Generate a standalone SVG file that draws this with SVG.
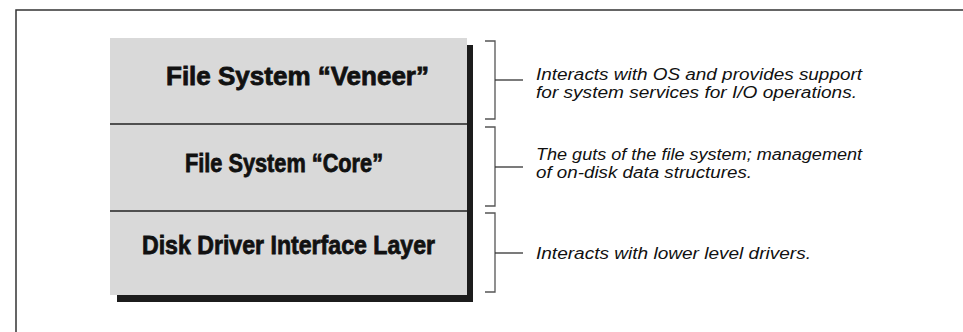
<svg xmlns="http://www.w3.org/2000/svg" width="963" height="332" viewBox="0 0 963 332">
<style>
.frame{stroke:#333;stroke-width:1.5;fill:none}
.sect{fill:#d9d9d9;stroke:none}
.div{stroke:#222;stroke-width:1.5}
.shadow{fill:#1c1c1c}
.lbl{font-family:"Liberation Sans",Arial,sans-serif;font-weight:bold;font-size:26px;fill:#111;stroke:#111;stroke-width:0.8}
.note{font-family:"Liberation Sans",Arial,sans-serif;font-style:italic;font-size:16px;fill:#111}
.br{stroke:#555;stroke-width:1.3;fill:none}
.tick{stroke:#333;stroke-width:1.3}
</style>
<rect width="963" height="332" fill="#fff"/>
<path class="frame" d="M16,332 V10 H963"/>
<g id="shadow">
<rect class="shadow" x="467" y="45" width="6" height="257"/>
<rect class="shadow" x="117" y="295" width="356" height="7"/>
</g>
<g id="layer-veneer">
<rect class="sect" x="110" y="38" width="357" height="86"/>
<text class="lbl" x="166" y="85" textLength="263" lengthAdjust="spacingAndGlyphs">File System “Veneer”</text>
</g>
<g id="layer-core">
<rect class="sect" x="110" y="124" width="357" height="87"/>
<text class="lbl" x="185" y="172" textLength="198" lengthAdjust="spacingAndGlyphs">File System “Core”</text>
</g>
<g id="layer-driver">
<rect class="sect" x="110" y="211" width="357" height="84"/>
<text class="lbl" x="142" y="254" textLength="293" lengthAdjust="spacingAndGlyphs">Disk Driver Interface Layer</text>
</g>
<g id="dividers">
<line class="div" x1="110" y1="124" x2="467" y2="124"/>
<line class="div" x1="110" y1="211" x2="467" y2="211"/>
</g>
<g id="connectors">
<path class="br" d="M485,41 H495 V119 H485"/>
<line class="tick" x1="495" y1="80" x2="523" y2="80"/>
<path class="br" d="M485,127 H495 V206 H485"/>
<line class="tick" x1="495" y1="167" x2="523" y2="167"/>
<path class="br" d="M485,213 H495 V292 H485"/>
<line class="tick" x1="495" y1="253" x2="523" y2="253"/>
</g>
<g id="note-veneer">
<text class="note" x="536" y="80" textLength="326" lengthAdjust="spacingAndGlyphs">Interacts with OS and provides support</text>
<text class="note" x="536" y="98" textLength="321" lengthAdjust="spacingAndGlyphs">for system services for I/O operations.</text>
</g>
<g id="note-core">
<text class="note" x="536" y="160" textLength="326" lengthAdjust="spacingAndGlyphs">The guts of the file system; management</text>
<text class="note" x="536" y="178" textLength="216" lengthAdjust="spacingAndGlyphs">of on-disk data structures.</text>
</g>
<g id="note-driver">
<text class="note" x="536" y="259" textLength="275" lengthAdjust="spacingAndGlyphs">Interacts with lower level drivers.</text>
</g>
</svg>
